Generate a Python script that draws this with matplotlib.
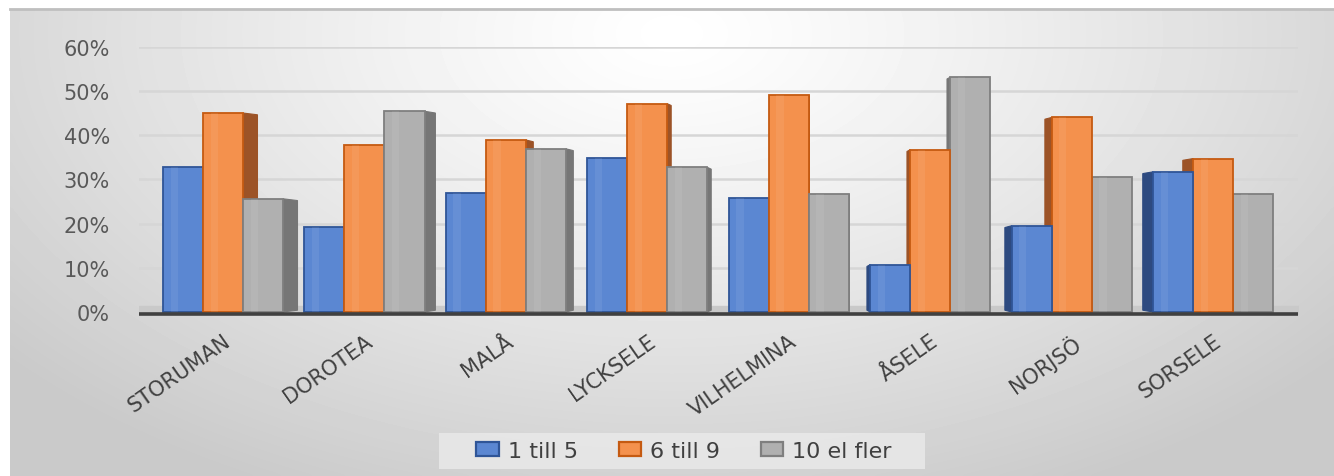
import matplotlib
matplotlib.use("Agg")
import matplotlib.pyplot as plt
from matplotlib.patches import Polygon, Patch, Rectangle
from matplotlib.ticker import PercentFormatter
import numpy as np

# Share of companies by size class, per municipality
KOMMUNER = ["STORUMAN", "DOROTEA", "MALÅ", "LYCKSELE",
            "VILHELMINA", "ÅSELE", "NORJSÖ", "SORSELE"]
SERIES = ["1 till 5", "6 till 9", "10 el fler"]
ONE_TO_FIVE = [0.327, 0.192, 0.268, 0.348, 0.257, 0.107, 0.195, 0.317]
SIX_TO_NINE = [0.450, 0.378, 0.389, 0.471, 0.491, 0.367, 0.440, 0.347]
TEN_PLUS = [0.256, 0.454, 0.369, 0.327, 0.267, 0.531, 0.306, 0.266]
Y_TICKS = [0.0, 0.1, 0.2, 0.3, 0.4, 0.5, 0.6]

# face, edge, side (shadowed) colour per series
COLOURS = [
    ("#5b87d2", "#2f5597", "#2d4a80"),
    ("#f4914d", "#c55a11", "#9c5327"),
    ("#b0b0b0", "#7f7f7f", "#767676"),
]

W, H, DPI = 1334, 477, 100
fig = plt.figure(figsize=(W / DPI, H / DPI), dpi=DPI)
fig.patch.set_facecolor("white")

# --- chart area with a soft radial gradient ---
bg = fig.add_axes([10 / W, 0, (W - 10) / W, (H - 10) / H])
gx, gy = np.meshgrid(np.linspace(0, 1, 400), np.linspace(0, 1, 150))
r = np.sqrt(((gx - 0.5) / 0.66) ** 2 + ((gy - 0.05) / 1.1) ** 2)
shade = 1.0 - 0.21 * np.clip(r, 0, 1) ** 1.2
bg.imshow(shade, cmap="gray", vmin=0, vmax=1, aspect="auto",
          extent=(0, 1, 1, 0), interpolation="bicubic")
bg.set_xlim(0, 1)
bg.set_ylim(1, 0)
bg.set_xticks([])
bg.set_yticks([])
for name, spine in bg.spines.items():
    spine.set_visible(name == "top")
bg.spines["top"].set_color("#bfbfbf")
bg.spines["top"].set_linewidth(2)

# --- plot area ---
ax = fig.add_axes([139 / W, 0.3346, (1298 - 139) / W, 0.5654])
ax.set_facecolor("none")
ax.set_xlim(-0.594, 7.6)
ax.set_ylim(-0.01, 0.6)

x = np.arange(len(KOMMUNER))
bw = 0.283
values = [ONE_TO_FIVE, SIX_TO_NINE, TEN_PLUS]
offsets = [-bw, 0.0, bw]

for yv in Y_TICKS[1:]:
    ax.axhline(yv, color="#d6d6d6", linewidth=1.8, zorder=1)

# floor strip and axis line
ax.fill_between([-0.594, 7.6], -0.004, 0.013, color="#c9c9c9", zorder=1.5)
ax.axhline(-0.005, color="#404040", linewidth=2.6, zorder=10)

VANISH = 4.08
for j, (vals, off) in enumerate(zip(values, offsets)):
    face, edge, side = COLOURS[j]
    for i, h in enumerate(vals):
        depth = 0.025 * (VANISH - i)
        z = 3 + (j if depth > 0 else 2 - j)
        xc = x[i] + off
        ax.bar(xc, h, width=bw, color=face, edgecolor=edge,
               linewidth=1.3, zorder=z)
        # glossy stripe
        ax.bar(xc - bw * 0.22, h, width=bw * 0.18, bottom=0,
               color="white", alpha=0.07, linewidth=0, zorder=z + 0.01)
        e = xc + bw / 2 if depth > 0 else xc - bw / 2
        ax.add_patch(Polygon([(e, 0.0), (e, h), (e + depth, h - 0.004),
                              (e + depth, 0.004)],
                             closed=True, facecolor=side, edgecolor=side,
                             linewidth=0.8, zorder=z - 0.1))

ax.set_yticks(Y_TICKS)
ax.yaxis.set_major_formatter(PercentFormatter(1.0, decimals=0))
ax.set_xticks(x)
ax.set_xticklabels(KOMMUNER, rotation=35, ha="right", va="top",
                   rotation_mode="anchor")
ax.tick_params(axis="y", length=0, pad=21, labelsize=15, labelcolor="#595959")
ax.tick_params(axis="x", length=0, pad=10, labelsize=15, labelcolor="#404040")
for spine in ax.spines.values():
    spine.set_visible(False)

# legend on its own light panel
fig.patches.append(Rectangle((439 / W, 1 - 470 / H), 486 / W, 36 / H,
                             transform=fig.transFigure, facecolor="#e9e9e9",
                             edgecolor="none", alpha=0.85, zorder=0))
handles = [Patch(facecolor=c[0], edgecolor=c[1], linewidth=1.6) for c in COLOURS]
fig.legend(handles, SERIES, loc="center", bbox_to_anchor=(684 / W, 1 - 452 / H),
           ncol=3, frameon=False, fontsize=16, handlelength=1.0,
           handleheight=0.55, handletextpad=0.4, columnspacing=1.85,
           labelcolor="#404040")

fig.savefig("out.png", dpi=DPI)
